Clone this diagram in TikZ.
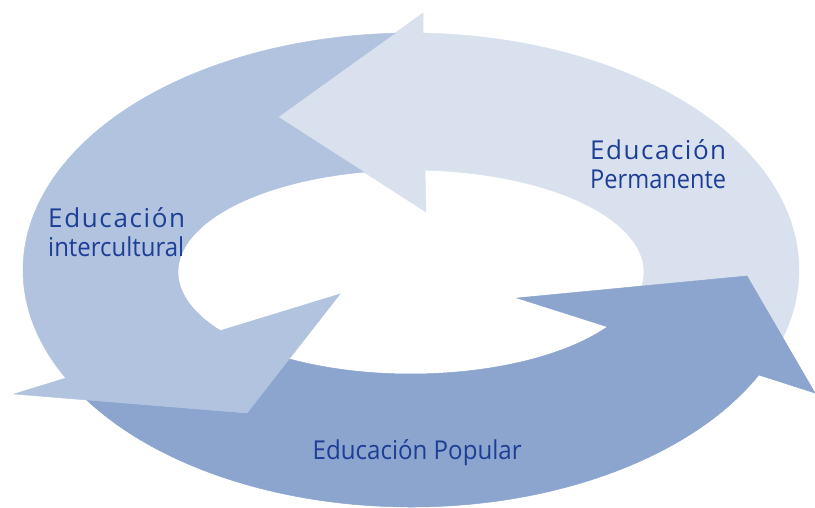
\documentclass[tikz,border=0pt]{standalone}
\usepackage{fontspec}
\setmainfont{Open Sans}
\usepackage{graphicx}
\definecolor{permcol}{RGB}{218,225,238}
\definecolor{intercol}{RGB}{177,195,223}
\definecolor{popcol}{RGB}{139,165,206}
\definecolor{txtcol}{RGB}{28,62,150}
\tikzset{
  permarrow/.style={fill=permcol,draw=permcol,line width=0.5pt},
  interarrow/.style={fill=intercol,draw=intercol,line width=0.5pt},
  poparrow/.style={fill=popcol,draw=popcol,line width=0.5pt},
  outerarc/.style={x radius=388pt,y radius=237pt},
  innerarc/.style={x radius=233pt,y radius=102pt},
  lbl/.style={text=txtcol,inner sep=0pt,anchor=base west,font=\fontsize{26}{30}\selectfont}
}
\begin{document}
\begin{tikzpicture}[x=1pt,y=1pt]
\useasboundingbox (0,0) rectangle (815,508);
\clip (0,0) rectangle (815,508);
% arrow heads: tip, outer wing, inner wing
\coordinate (pT) at (278,391); \coordinate (pO) at (423,495); \coordinate (pI) at (426,296);
\coordinate (cT) at (247,95);  \coordinate (cO) at (14,114);  \coordinate (cI) at (340,214);
\coordinate (uT) at (747,232); \coordinate (uO) at (815,115); \coordinate (uI) at (517,210);
% Educacion Permanente arrow
\filldraw[permarrow] ({411+388*cos(-16.6)},{238+237*sin(-16.6)})
  arc[start angle=-16.6,end angle=88.2,outerarc] -- (pO) -- (pT) -- (pI)
  -- ({411+233*cos(86.55)},{236+102*sin(86.55)})
  arc[start angle=86.55,end angle=-7.9,innerarc] -- (uT) -- cycle;
% Educacion Popular arrow
\filldraw[poparrow] ({411+388*cos(213.2)},{238+237*sin(213.2)})
  arc[start angle=213.2,end angle=333.7,outerarc] -- (uO) -- (uT) -- (uI)
  -- ({411+233*cos(327.5)},{236+102*sin(327.5)})
  arc[start angle=327.5,end angle=238.5,innerarc] -- (cT) -- cycle;
% Educacion intercultural arrow
\filldraw[interarrow] ({411+388*cos(92.4)},{238+237*sin(92.4)})
  arc[start angle=92.4,end angle=207.15,outerarc] -- (cO) -- (cT) -- (cI)
  -- ({411+233*cos(215.1)},{236+102*sin(215.1)})
  arc[start angle=215.1,end angle=101.7,innerarc] -- (pT) -- cycle;
% labels
\node[lbl] (ie) at (48,280) {\makebox[137pt][s]{E\hfill d\hfill u\hfill c\hfill a\hfill c\hfill i\hfill ó\hfill n}};
\node[lbl] (ii) at (48,251) {\resizebox{136pt}{\height}{intercultural}};
\node[lbl] (pe) at (590,348) {\makebox[136pt][s]{E\hfill d\hfill u\hfill c\hfill a\hfill c\hfill i\hfill ó\hfill n}};
\node[lbl] (pp) at (590,319) {\resizebox{136pt}{\height}{Permanente}};
\node[lbl] (up) at (312.5,48) {\resizebox{209pt}{\height}{Educación Popular}};
\end{tikzpicture}
\end{document}
